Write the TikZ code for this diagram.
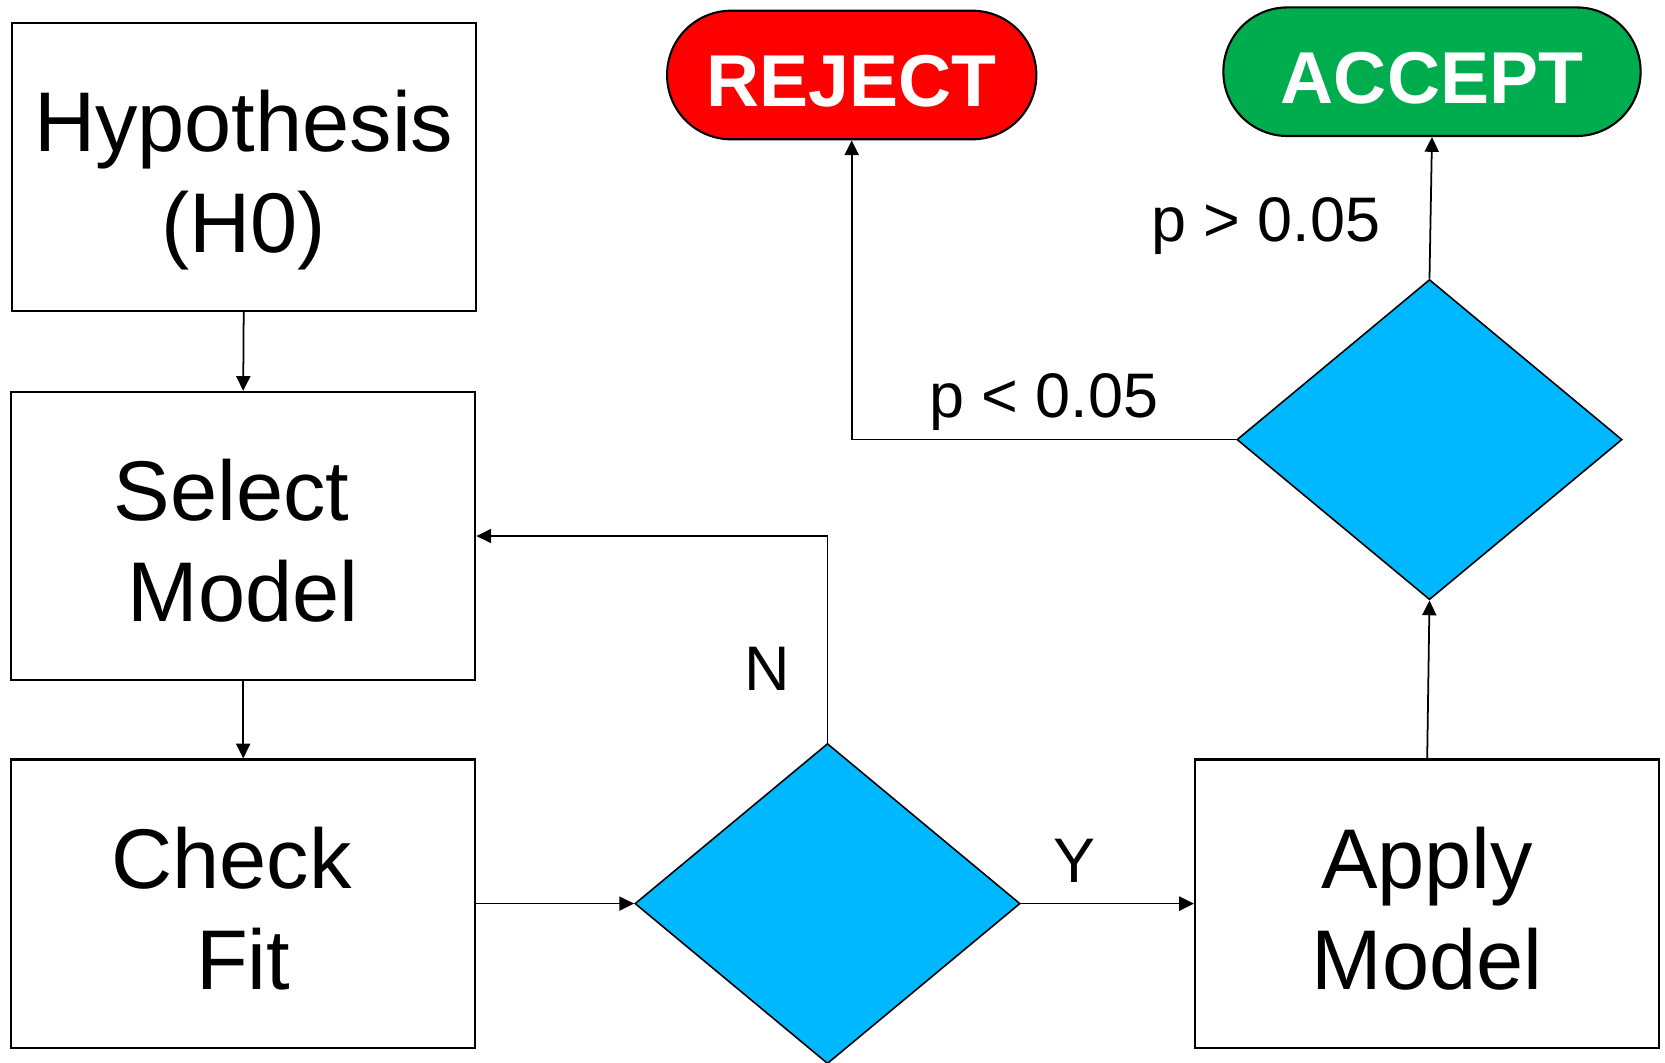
\documentclass[tikz,border=0pt]{standalone}
\usepackage{fontspec}
\setmainfont{Liberation Sans}
\usetikzlibrary{shapes.geometric,arrows.meta}
\definecolor{decblue}{RGB}{0,184,255}
\definecolor{rejred}{RGB}{255,0,0}
\definecolor{accgreen}{RGB}{0,173,78}
% two-line box text with fixed strut height/depth so that the baselines sit consistently
\newcommand\boxtext[2]{\rule{0pt}{0.95cm}#1\\#2\rule[-0.25cm]{0pt}{0.25cm}}
% trailing space after a word (kept when the line is centred)
\newcommand\trail{\kern0.236cm}

\begin{document}
\begin{tikzpicture}[x=0.01cm,y=-0.01cm,
  stepbox/.style={draw, line width=0.6pt, inner sep=0, minimum width=4.64cm, minimum height=2.88cm,
    align=center, font=\fontsize{24.1}{28.7}\selectfont},
  decision/.style={diamond, draw, fill=decblue, line width=0.45pt, inner sep=0,
    minimum width=3.85cm, minimum height=3.2cm},
  terminal/.style={draw, line width=0.6pt, rounded corners=0.64cm, minimum height=1.285cm,
    inner sep=0, text=white, text height=18pt, text depth=0pt,
    font=\fontsize{20.9}{25}\selectfont\bfseries},
  flow/.style={-{Triangle[length=4.2pt,width=4pt]}, line width=0.5pt},
  lbl/.style={font=\fontsize{17.9}{21}\selectfont, inner sep=0}
]
\useasboundingbox (0,0) rectangle (1665,1063);

% process steps
\node[stepbox] (hyp)    at (243.7,167)    {\boxtext{Hypothesis}{(H0)}};
\node[stepbox] (select) at (243.2,536)    {\boxtext{Select\trail}{Model}};
\node[stepbox] (check)  at (243.2,903.6)  {\boxtext{Check\trail}{Fit}};
\node[stepbox] (apply)  at (1427.2,903.6) {\boxtext{Apply}{Model}};

% decisions
\node[decision] (fit)  at (827.5,903.6) {};
\node[decision] (pval) at (1429.5,439.6) {};

% outcomes
\node[terminal, fill=rejred, minimum width=3.69cm]   (reject) at (851.7,75) {REJECT};
\node[terminal, fill=accgreen, minimum width=4.17cm] (accept) at (1432,71.7) {ACCEPT};

% connectors
\draw[flow] (hyp.south) -- (select.north);
\draw[flow] (select.south) -- (check.north);
\draw[flow] (check.east) -- (fit.west);
\draw[flow] (fit.east) -- (apply.west);
\draw[flow] (fit.north) |- (select.east);
\draw[flow] (apply.north) -- (pval.south);
\draw[flow] (pval.north) -- (accept.south);
\draw[flow] (pval.west) -| (reject.south);

% branch labels
\node[lbl] (lN)  at (767.7,669)  {N};
\node[lbl] (lY)  at (1074.6,861) {Y};
\node[lbl] (llo) at (1043.9,402) {p < 0.05};
\node[lbl] (lhi) at (1265.8,226) {p > 0.05};
\end{tikzpicture}
\end{document}
